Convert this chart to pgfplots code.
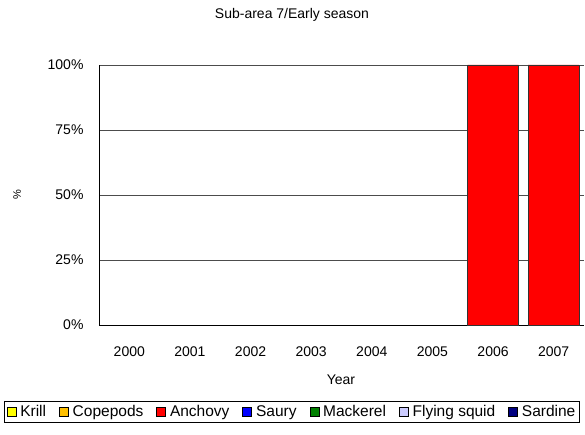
\documentclass[border=0pt]{standalone}
\usepackage{fontspec}
\setmainfont{Liberation Sans}
\usepackage{pgfplots}
\pgfplotsset{compat=1.18}

\definecolor{krill}{RGB}{255,255,0}
\definecolor{copepods}{RGB}{255,192,0}
\definecolor{anchovy}{RGB}{255,0,0}
\definecolor{saury}{RGB}{0,0,255}
\definecolor{mackerel}{RGB}{0,128,0}
\definecolor{squid}{RGB}{204,204,255}
\definecolor{sardine}{RGB}{0,0,128}

\begin{document}
\begin{tikzpicture}[x=1pt,y=1pt]
\useasboundingbox (0,0) rectangle (585,434);
\begin{axis}[
    at={(99pt,109pt)}, anchor=south west,
    scale only axis, width=485pt, height=260pt,
    ybar stacked, bar width=51pt,
    xmin=-0.5, xmax=7.5, ymin=0, ymax=100,
    xtick={0,...,7},
    xticklabels={2000,2001,2002,2003,2004,2005,2006,2007},
    ytick={0,25,50,75,100},
    yticklabel={\pgfmathprintnumber{\tick}\%},
    axis x line*=bottom, axis y line*=left,
    axis line style={black, line width=0.8pt},
    ymajorgrids, grid style={black!70, line width=0.7pt},
    major tick length=0pt,
    tick label style={font=\fontsize{14}{16}\selectfont},
    /pgf/number format/assume math mode=true,
    xticklabel style={yshift=-18pt},
    yticklabel style={xshift=-12pt},
    every axis plot/.append style={draw=black!80, line width=0.6pt},
    area legend,
    legend columns=7,
    legend style={at={(0.398,-0.3346)}, anchor=center, draw=black,
        line width=0.6pt, font=\fontsize{15.5}{17}\selectfont,
        /tikz/every even column/.append style={column sep=11pt},
        /tikz/every odd column/.append style={column sep=2pt},
        inner sep=2pt},
    legend image code/.code={\draw[#1, draw=black] (0pt,-4.5pt) rectangle (9pt,4.5pt);},
]
\addplot[fill=krill] coordinates {(0,0) (1,0) (2,0) (3,0) (4,0) (5,0) (6,0) (7,0)};
\addplot[fill=copepods] coordinates {(0,0) (1,0) (2,0) (3,0) (4,0) (5,0) (6,0) (7,0)};
\addplot[fill=anchovy] coordinates {(0,0) (1,0) (2,0) (3,0) (4,0) (5,0) (6,100) (7,100)};
\addplot[fill=saury] coordinates {(0,0) (1,0) (2,0) (3,0) (4,0) (5,0) (6,0) (7,0)};
\addplot[fill=mackerel] coordinates {(0,0) (1,0) (2,0) (3,0) (4,0) (5,0) (6,0) (7,0)};
\addplot[fill=squid] coordinates {(0,0) (1,0) (2,0) (3,0) (4,0) (5,0) (6,0) (7,0)};
\addplot[fill=sardine] coordinates {(0,0) (1,0) (2,0) (3,0) (4,0) (5,0) (6,0) (7,0)};
\legend{Krill,Copepods,Anchovy,Saury,Mackerel,Flying squid,Sardine}
\end{axis}
\node[font=\fontsize{14}{16}\selectfont] at (292,419) {Sub-area 7/Early season};
\node[font=\fontsize{14}{16}\selectfont] at (341,54) {Year};
\node[font=\fontsize{11}{13}\selectfont, rotate=90] at (17,239) {\%};
\end{tikzpicture}
\end{document}
